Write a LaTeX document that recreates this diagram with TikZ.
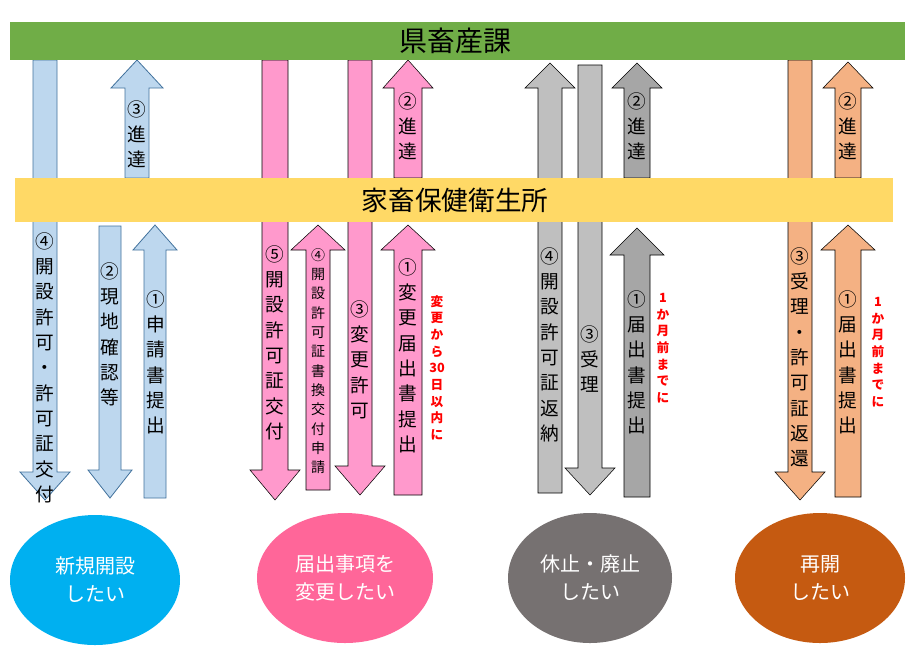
\documentclass[tikz,border=0pt]{standalone}
\usepackage{fontspec}
\setmainfont{Noto Sans CJK JP}
\begin{document}
\definecolor{gbar}{HTML}{70AD47}
\definecolor{yelbar}{RGB}{255,217,102}
\definecolor{bfill}{HTML}{BDD7EE}
\definecolor{bline}{HTML}{41719C}
\definecolor{pk}{HTML}{FF99CC}
\definecolor{pke}{HTML}{FF6699}
\definecolor{lg}{HTML}{BFBFBF}
\definecolor{dg}{HTML}{A6A6A6}
\definecolor{gye}{HTML}{767171}
\definecolor{oa}{HTML}{F4B183}
\definecolor{oe}{HTML}{C55A11}
\definecolor{be}{HTML}{00B0F0}
\newcommand\farr[7]{\draw[#7] ({#1-#4},#2)--({#1-#4},#6)--({#1-#5},#6)--(#1,#3)--({#1+#5},#6)--({#1+#4},#6)--({#1+#4},#2)--cycle;}
\begin{tikzpicture}[x=0.75pt,y=-0.75pt,
 blue/.style={fill=bfill,draw=bline,line width=0.6pt},
 pink/.style={fill=pk},light/.style={fill=lg},dark/.style={fill=dg},orng/.style={fill=oa},
 vt/.style={anchor=north,align=center,inner sep=0pt,font=\fontsize{14}{19}\selectfont},
 vs/.style={anchor=north,align=center,inner sep=0pt,font=\fontsize{10.5}{14.5}\selectfont},
 redt/.style={anchor=north,align=center,inner sep=0pt,text=red,font=\bfseries\fontsize{9.5}{12.5}\selectfont},
 et/.style={text=white,align=center,font=\fontsize{15}{21}\selectfont}]
\useasboundingbox (0,0) rectangle (913,669);
% blue
\farr{45}{60}{500}{12}{25}{472}{blue}
\farr{110}{226}{498}{11}{22}{470}{blue}
\farr{155}{498}{225}{11}{22}{250}{blue}
\farr{137}{178}{60}{12}{26}{88}{blue}
% pink
\farr{275}{60}{500}{13}{25}{470}{pink}
\farr{318}{490}{225}{12}{27}{250}{pink}
\farr{360}{60}{495}{12}{25}{466}{pink}
\farr{408}{495}{225}{14}{27}{250}{pink}
\farr{408}{178}{60}{14}{25}{88}{pink}
% gray
\farr{550}{493}{63}{12}{25}{88}{light}
\farr{590}{65}{495}{12}{25}{468}{light}
\farr{637}{497}{228}{13}{27}{255}{dark}
\farr{637}{178}{63}{13}{25}{88}{dark}
% orange
\farr{800}{60}{500}{12}{25}{472}{orng}
\farr{848}{497}{225}{13}{27}{250}{orng}
\farr{848}{178}{62}{13}{25}{88}{orng}
% bars
\path[fill=gbar] (10,22) rectangle (905,60);
\node (kenka) at (455,41) {\fontsize{21}{24}\selectfont 県畜産課};
\path[fill=yelbar] (15,178) rectangle (893,222);
\node (kachiku) at (455,200) {\fontsize{20}{24}\selectfont 家畜保健衛生所};
% blue texts
\node[vt] (b4) at (45,232) {④\\開\\設\\許\\可\\・\\許\\可\\証\\交\\付};
\node[vt] (b2) at (110,262) {②\\現\\地\\確\\認\\等};
\node[vt] (b1) at (156,290) {①\\申\\請\\書\\提\\出};
\node[vt] (b3) at (137,100) {③\\進\\達};
% pink texts
\node[vt] (p5) at (275,245) {⑤\\開\\設\\許\\可\\証\\交\\付};
\node[vs] (p4) at (318,248) {④\\開\\設\\許\\可\\証\\書\\換\\交\\付\\申\\請};
\node[vt] (p3) at (360,300) {③\\変\\更\\許\\可};
\node[vt] (p1) at (408,258) {①\\変\\更\\届\\出\\書\\提\\出};
\node[vt] (p2) at (408,92) {②\\進\\達};
\node[redt] (pr) at (437,295) {変\\更\\か\\ら\\30\\日\\以\\内\\に};
% gray texts
\node[vt] (g4) at (550,247) {④\\開\\設\\許\\可\\証\\返\\納};
\node[vt] (g3) at (590,325) {③\\受\\理};
\node[vt] (g1) at (637,290) {①\\届\\出\\書\\提\\出};
\node[vt] (g2) at (637,92) {②\\進\\達};
\node[redt] (gr) at (663,293) {1\\か\\月\\前\\ま\\で\\に};
% orange texts
\node[vt] (o3) at (800,247) {③\\受\\理\\・\\許\\可\\証\\返\\還};
\node[vt] (o1) at (848,290) {①\\届\\出\\書\\提\\出};
\node[vt] (o2) at (848,92) {②\\進\\達};
\node[redt] (or) at (878,297) {1\\か\\月\\前\\ま\\で\\に};
% ellipses
\path[fill=be] (95,580) ellipse [x radius=85,y radius=65];
\node[et] (e1) at (95,580) {新規開設\\したい};
\path[fill=pke] (345,578) ellipse [x radius=88,y radius=65];
\node[et] (e2) at (345,578) {届出事項を\\変更したい};
\path[fill=gye] (590,578) ellipse [x radius=82,y radius=65];
\node[et] (e3) at (590,578) {休止・廃止\\したい};
\path[fill=oe] (820,578) ellipse [x radius=85,y radius=65];
\node[et] (e4) at (820,578) {再開\\したい};
\end{tikzpicture}
\end{document}
